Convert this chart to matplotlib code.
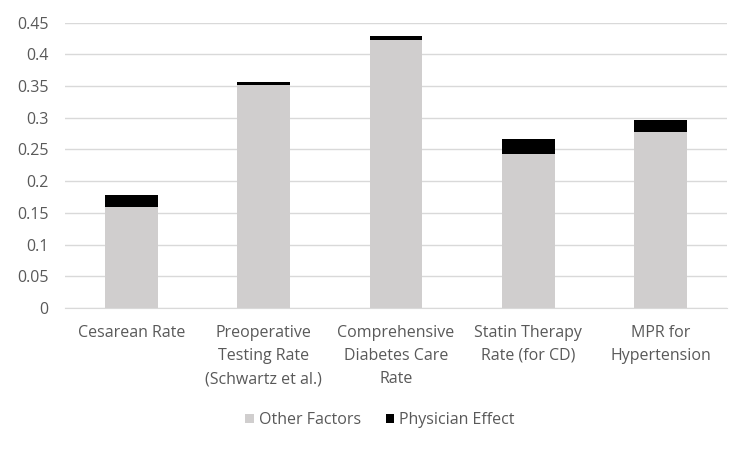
import matplotlib
matplotlib.use("Agg")
import matplotlib.pyplot as plt
import numpy as np

plt.rcParams['font.family'] = ['Open Sans', 'DejaVu Sans']

# data
categories = ["Cesarean Rate",
              "Preoperative\nTesting Rate\n(Schwartz et al.)",
              "Comprehensive\nDiabetes Care\nRate",
              "Statin Therapy\nRate (for CD)",
              "MPR for\nHypertension"]
other_factors = [0.160, 0.351, 0.422, 0.243, 0.277]
physician_effect = [0.0175, 0.006, 0.007, 0.023, 0.0195]

text_color = '#595959'

fig = plt.figure(figsize=(7.51, 4.51), dpi=100)
ax = fig.add_axes([0.0866, 0.317, 0.8814, 0.633])

x = np.arange(len(categories))
ax.bar(x, other_factors, width=0.4, color='#D0CECE', label='Other Factors', zorder=3)
ax.bar(x, physician_effect, width=0.4, bottom=other_factors, color='#000000',
       label='Physician Effect', zorder=3)

ax.set_xlim(-0.5, len(categories) - 0.5)
ax.set_ylim(0, 0.45)
ticks = np.arange(0, 0.451, 0.05)
ax.set_yticks(ticks)
ax.set_yticklabels(['0' if t == 0 else ('%.2f' % t).rstrip('0') for t in ticks])
ax.set_xticks(x)
ax.set_xticklabels(categories, linespacing=1.6)

ax.yaxis.grid(True, color='#D9D9D9', linewidth=1, zorder=0)
for s in ['top', 'right', 'left']:
    ax.spines[s].set_visible(False)
ax.spines['bottom'].set_color('#D9D9D9')
ax.tick_params(axis='both', length=0, colors=text_color, labelsize=11.5)
ax.tick_params(axis='x', pad=12)
ax.tick_params(axis='y', pad=12)

leg = fig.legend(*ax.get_legend_handles_labels(), loc='center',
                 bbox_to_anchor=(0.506, 1 - 420 / 451), ncol=2, frameon=False,
                 fontsize=11.5, handlelength=0.55, handleheight=0.55, columnspacing=1.55,
                 handletextpad=0.3)
for t in leg.get_texts():
    t.set_color(text_color)

fig.savefig('out.png', dpi=100)
